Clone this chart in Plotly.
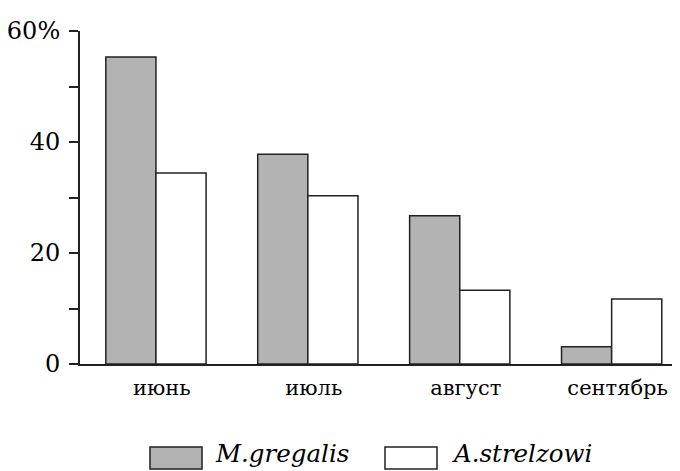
import plotly.graph_objects as go

months = ["июнь", "июль", "август", "сентябрь"]
series_names = ["M.gregalis", "A.strelzowi"]
gregalis = [55.3, 37.8, 26.7, 3.1]
strelzowi = [34.4, 30.3, 13.3, 11.7]
y_ticks = [0, 20, 40, 60]
y_ticklabels = ["0", "20", "40", "60%"]

colors = ["#b3b3b3", "#ffffff"]
FONT = "DejaVu Serif"

fig = go.Figure()
for name, vals, col in zip(series_names, [gregalis, strelzowi], colors):
    fig.add_trace(go.Bar(
        x=months, y=vals, name=name,
        marker=dict(color=col, line=dict(color="#222222", width=1.5)),
        showlegend=False,
    ))

W, H = 680, 471
OFF = 8  # page body margin offset
ml, mr, mt, mb = 80 - OFF, OFF, 31 - OFF, 107 + OFF
pw, ph = W - ml - mr, H - mt - mb

def px2x(px):
    return (px - OFF - ml) / pw

def py2y(py):
    return (H - mb - (py - OFF)) / ph

# custom legend (large swatches like the reference)
legend_items = [
    (series_names[0], colors[0], 150, 202, 213),
    (series_names[1], colors[1], 385, 437, 450),
]
shapes = []
annotations = []
for name, col, x0, x1, tx in legend_items:
    shapes.append(dict(type="rect", xref="paper", yref="paper",
                       x0=px2x(x0), x1=px2x(x1), y0=py2y(469), y1=py2y(447),
                       fillcolor=col, line=dict(color="#222222", width=1.5)))
    annotations.append(dict(text=name, xref="paper", yref="paper",
                            x=px2x(tx), y=py2y(453), xanchor="left", yanchor="middle",
                            showarrow=False,
                            font=dict(family=FONT, size=24.5, color="black", style="italic")))

fig.update_layout(
    width=W, height=H,
    margin=dict(l=ml, r=mr, t=mt, b=mb, autoexpand=False),
    paper_bgcolor="white", plot_bgcolor="white",
    barmode="group", bargap=0.34, bargroupgap=0,
    font=dict(family=FONT, color="black"),
    shapes=shapes, annotations=annotations,
)
fig.update_xaxes(
    range=[-0.5, 3.45], showline=True, linecolor="#222222", linewidth=2,
    ticks="", showgrid=False, zeroline=False, automargin=False,
    tickfont=dict(family=FONT, size=21, color="black"),
    ticklabelshift=6, ticklabelstandoff=4,
)
fig.update_yaxes(
    range=[0, 60], showline=True, linecolor="#222222", linewidth=2,
    tickvals=y_ticks, ticktext=y_ticklabels, automargin=False,
    ticks="outside", ticklen=9, tickwidth=2, tickcolor="#222222",
    minor=dict(dtick=10, ticks="outside", ticklen=9, tickwidth=2, tickcolor="#222222"),
    showgrid=False, zeroline=False,
    tickfont=dict(family=FONT, size=24, color="black"),
    ticklabelstandoff=4,
)

fig.write_html("out.html")
